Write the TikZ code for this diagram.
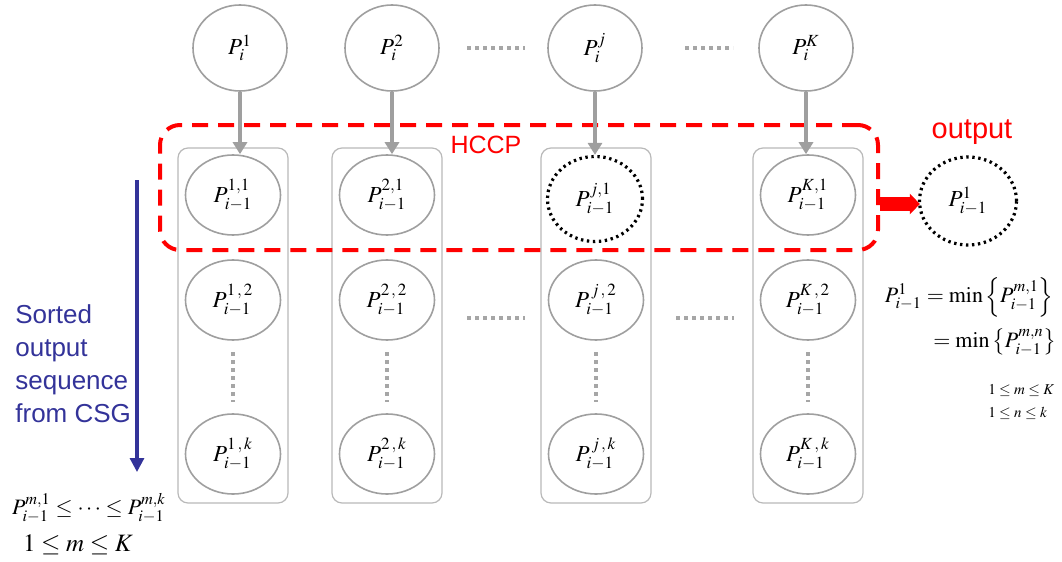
\documentclass[tikz,border=0pt]{standalone}
\usepackage{mathptmx}
\usepackage[no-math]{fontspec}
\newfontfamily\arialf{Liberation Sans}
\usetikzlibrary{shapes.geometric,arrows.meta,positioning}
\definecolor{dblue}{RGB}{51,51,153}
\begin{document}
\begin{tikzpicture}[x=0.5pt,y=-0.5pt,
  pn/.style={ellipse, draw=gray!75, line width=0.8pt, minimum width=47.5pt, minimum height=40pt, inner sep=0pt, font=\fontsize{11.5}{13}\selectfont},
  topn/.style={pn, minimum width=47pt, minimum height=43pt},
  dotn/.style={pn, draw=black, line width=1.6pt, dash pattern=on 1.2pt off 1.8pt, minimum width=47.5pt, minimum height=42.5pt},
  colbox/.style={draw=gray!55, line width=0.6pt, rounded corners=5pt, minimum width=55pt, minimum height=177.5pt, inner sep=0pt},
  garrow/.style={draw=gray!75, line width=1.6pt, -{Triangle[length=6pt,width=7pt]}},
  gdots/.style={draw=gray!70, line width=2pt, dash pattern=on 2pt off 2pt},
  hccpbox/.style={draw=red, line width=2pt, dash pattern=on 8pt off 5pt, rounded corners=10pt, inner sep=0pt},
  redlab/.style={text=red, font=\arialf\fontsize{12.5}{15}\selectfont},
  mathlab/.style={font=\fontsize{11}{13}\selectfont, inner sep=0pt},
]
\useasboundingbox (0,0) rectangle (1062,562);

% column boxes
\node[colbox] (b1) at (233,325.5) {};
\node[colbox] (b2) at (387,325.5) {};
\node[colbox] (b3) at (596,325.5) {};
\node[colbox] (b4) at (808,325.5) {};

% HCCP box
\node[hccpbox, minimum width=359pt, minimum height=62.5pt] (hccp) at (519,187.5) {};
\node[redlab] (hccplab) at (486,145) {HCCP};

% top nodes
\node[topn] (t1) at (240,48) {$P_i^1$};
\node[topn] (t2) at (392,48) {$P_i^2$};
\node[topn] (t3) at (595,48) {$P_i^j$};
\node[topn] (t4) at (806,48) {$P_i^K$};

% row 1
\node[pn] (a11) at (233,195) {$P_{i-1}^{1,1}$};
\node[pn] (a21) at (387,195) {$P_{i-1}^{2,1}$};
\node[dotn] (a31) at (595,199) {$P_{i-1}^{j,1}$};
\node[pn] (a41) at (808,195) {$P_{i-1}^{K,1}$};

% row 2
\node[pn] (a12) at (233,300) {$P_{i-1}^{1\,,\,2}$};
\node[pn] (a22) at (387,300) {$P_{i-1}^{2\,,\,2}$};
\node[pn] (a32) at (596,300) {$P_{i-1}^{\,j\,,\,2}$};
\node[pn] (a42) at (808,300) {$P_{i-1}^{K\,,\,2}$};

% row k
\node[pn] (a1k) at (233,454) {$P_{i-1}^{1\,,\,k}$};
\node[pn] (a2k) at (387,454) {$P_{i-1}^{2\,,\,k}$};
\node[pn] (a3k) at (596,454) {$P_{i-1}^{\,j\,,\,k}$};
\node[pn] (a4k) at (808,454) {$P_{i-1}^{K\,,\,k}$};

% arrows from top nodes
\draw[garrow] (t1) -- (t1 |- a11.north);
\draw[garrow] (t2) -- (t2 |- a21.north);
\draw[garrow] (t3) -- (t3 |- a31.north);
\draw[garrow] (t4) -- (t4 |- a41.north);

% dots
\draw[gdots] (467,48) -- (525,48);
\draw[gdots] (685,48) -- (733,48);
\draw[gdots] (467,318) -- (525,318);
\draw[gdots] (676,318) -- (734,318);
\draw[gdots] (233,352) -- (233,402);
\draw[gdots] (387,352) -- (387,402);
\draw[gdots] (596,352) -- (596,402);
\draw[gdots] (808,352) -- (808,402);

% output
\node[redlab, font=\arialf\fontsize{14.5}{16}\selectfont] (outlab) at (972,132) {output};
\node[dotn, minimum width=48.5pt, minimum height=44pt] (out) at (968,201) {$P_{i-1}^{1}$};
\draw[red, line width=7pt, -{Triangle[length=5pt,width=10pt]}] (hccp.east |- out.west) ++(0,3) -- ([yshift=-1.5pt,xshift=1pt]out.west);

% right formulas
\node[mathlab, anchor=east] (f1) at (1054,297) {$P_{i-1}^{1}=\min\left\{P_{i-1}^{m,1}\right\}$};
\node[mathlab, anchor=east] (f2) at (1057,342) {$=\min\left\{P_{i-1}^{m,n}\right\}$};
\node[mathlab, anchor=west, font=\fontsize{7.5}{9}\selectfont] (f3) at (988,390) {$1\le m\le K$};
\node[mathlab, anchor=west, font=\fontsize{7.5}{9}\selectfont] (f4) at (988,413) {$1\le n\le k$};

% left side
\coordinate (bs) at (137,180);
\coordinate (be) at (137,472);
\draw[dblue, line width=1.6pt, -{Triangle[length=7pt,width=7pt]}] (bs) -- (be);
\node[anchor=north west, align=left, text=dblue, inner sep=0pt, font=\arialf\fontsize{13}{16.5}\selectfont] (sorted) at (15,304) {Sorted\\output\\sequence\\from CSG};
\node[mathlab] (lf1) at (89,508) {$P_{i-1}^{m,1}\le\cdots\le P_{i-1}^{m,k}$};
\node[mathlab, font=\fontsize{12.5}{14}\selectfont] (lf2) at (78,545) {$1\le m\le K$};
\end{tikzpicture}
\end{document}
